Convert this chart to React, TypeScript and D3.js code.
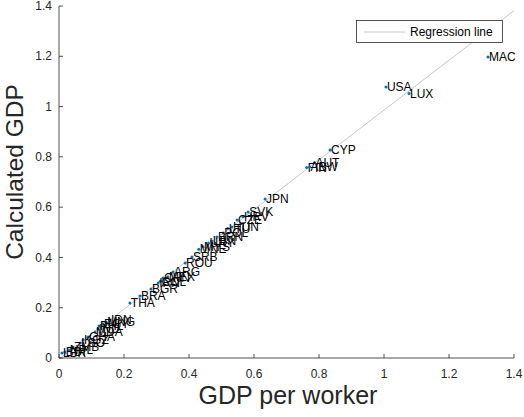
import React from "react";
import * as d3 from "d3";

const labels = [
  "MAC", "USA", "LUX", "CYP", "AUT", "FIN", "ABW", "JPN", "SVK", "HRV", "CZE", "HUN", "LTU", "POL",
  "BRN", "LBN", "URY", "MYS", "MNE", "SRB", "ROU", "ARG", "MEX", "COL", "CHN", "IRN", "BGR", "BRA",
  "THA", "IDN", "MNG", "EGY", "PHL", "IND", "MDA", "GHA", "KGZ", "LSO", "ZMB", "NPL", "BDI", "LBR",
];
const gdpPerWorker = [
  1.32, 1.006, 1.077, 0.834, 0.786, 0.762, 0.771, 0.634, 0.582, 0.566, 0.548, 0.532, 0.519, 0.505,
  0.486, 0.47, 0.46, 0.443, 0.43, 0.409, 0.388, 0.351, 0.335, 0.312, 0.32, 0.305, 0.283, 0.249,
  0.218, 0.157, 0.145, 0.135, 0.123, 0.12, 0.111, 0.089, 0.074, 0.065, 0.043, 0.03, 0.018, 0.009,
];
const calculatedGdp = [
  1.197, 1.078, 1.052, 0.827, 0.778, 0.758, 0.761, 0.632, 0.581, 0.562, 0.549, 0.521, 0.515, 0.497,
  0.481, 0.465, 0.457, 0.442, 0.433, 0.402, 0.378, 0.342, 0.322, 0.305, 0.318, 0.298, 0.274, 0.247,
  0.219, 0.15, 0.142, 0.136, 0.127, 0.115, 0.103, 0.084, 0.072, 0.06, 0.044, 0.032, 0.024, 0.02,
];
const xTicks = [0, 0.2, 0.4, 0.6, 0.8, 1, 1.2, 1.4];
const yTicks = [0, 0.2, 0.4, 0.6, 0.8, 1, 1.2, 1.4];
const regression = { slope: 0.99, intercept: -0.004 };

const W = 524;
const H = 417;
const font = "Liberation Sans, Arial, Helvetica, sans-serif";

export default function App() {
  const x = d3.scaleLinear().domain([0, 1.4]).range([59, 514]);
  const y = d3.scaleLinear().domain([0, 1.4]).range([358, 6]);
  const axisColor = "#262626";
  const fmt = (v: number) => String(v);
  const regX = [0, 1.4];
  const line = d3
    .line<number>()
    .x((d) => x(d))
    .y((d) => y(regression.slope * d + regression.intercept));

  return (
    <svg
      width={W}
      height={H}
      style={{ position: "absolute", left: 0, top: 0, background: "#fff" }}
      fontFamily={font}
    >
      <rect x={0} y={0} width={W} height={H} fill="#fff" />
      {/* regression line */}
      <path d={line(regX) || ""} stroke="#c8c8c8" strokeWidth={1} fill="none" />
      {/* points */}
      {labels.map((l, i) => (
        <g key={l}>
          <circle cx={x(gdpPerWorker[i])} cy={y(calculatedGdp[i])} r={1.5} fill="#0072BD" />
          <text
            x={x(gdpPerWorker[i]) + 1}
            y={y(calculatedGdp[i])}
            dy="0.35em"
            fontSize={12}
            fill="#000"
          >
            {l}
          </text>
        </g>
      ))}
      {/* axes */}
      <line x1={x(0)} x2={x(1.4)} y1={y(0)} y2={y(0)} stroke={axisColor} strokeWidth={0.8} />
      <line x1={x(0)} x2={x(0)} y1={y(0)} y2={y(1.4)} stroke={axisColor} strokeWidth={0.8} />
      {xTicks.map((t) => (
        <g key={"x" + t}>
          <line x1={x(t)} x2={x(t)} y1={y(0)} y2={y(0) - 4} stroke={axisColor} strokeWidth={0.8} />
          <text x={x(t)} y={y(0) + 20} textAnchor="middle" fontSize={12} fill={axisColor}>
            {fmt(t)}
          </text>
        </g>
      ))}
      {yTicks.map((t) => (
        <g key={"y" + t}>
          <line x1={x(0)} x2={x(0) + 4} y1={y(t)} y2={y(t)} stroke={axisColor} strokeWidth={0.8} />
          <text x={x(0) - 7} y={y(t)} dy="0.35em" textAnchor="end" fontSize={12} fill={axisColor}>
            {fmt(t)}
          </text>
        </g>
      ))}
      <text x={288} y={404} textAnchor="middle" fontSize={25} fill={axisColor}>
        GDP per worker
      </text>
      <text
        transform={`translate(23,${172}) rotate(-90)`}
        textAnchor="middle"
        fontSize={24.5}
        fill={axisColor}
      >
        Calculated GDP
      </text>
      {/* legend */}
      <rect x={356.5} y={20.5} width={146} height={22} fill="#fff" stroke={axisColor} strokeWidth={0.8} />
      <line x1={364} x2={405} y1={32} y2={32} stroke="#c8c8c8" strokeWidth={1} />
      <text x={410} y={32} dy="0.35em" fontSize={12} fill="#000">
        Regression line
      </text>
    </svg>
  );
}
